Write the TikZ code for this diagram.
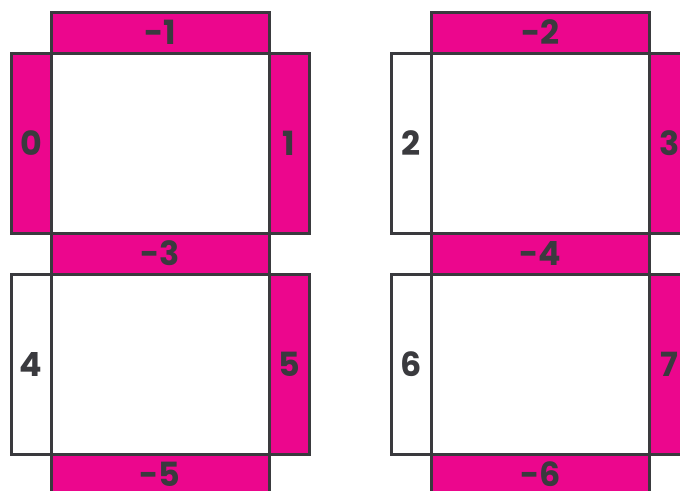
\documentclass[tikz,border=0pt]{standalone}
\usepackage{fontspec}
\setmainfont{Poppins}
\usetikzlibrary{positioning}
\definecolor{pink}{RGB}{236,6,141}
\definecolor{ink}{RGB}{58,58,62}

\tikzset{
  part/.style={draw=ink, line width=2.25pt, inner sep=0pt, outer sep=0pt,
    text=ink, font=\fontsize{25}{25}\selectfont\bfseries},
  cell/.style={part, minimum width=163.5pt, minimum height=135pt},
  sidebar/.style={part, minimum width=30pt, minimum height=135pt},
  topbar/.style={part, fill=pink, minimum width=163.5pt, minimum height=30.75pt},
}

\begin{document}
\begin{tikzpicture}[x=0.75pt, y=-0.75pt]
    \useasboundingbox (0,0) rectangle (680,490);
    \clip (0,0) rectangle (680,490);

    % Squares
    \node[cell] (sqA) at (160,143) {};
    \node[cell] (sqB) at (540.5,143) {};
    \node[cell] (sqC) at (160,364) {};
    \node[cell] (sqD) at (540.5,364) {};

    % Side bars
    \node[sidebar, fill=pink, left=0pt of sqA] (s0) {0};
    \node[sidebar, fill=pink, right=0pt of sqA] (s1) {1};
    \node[sidebar, fill=white, left=0pt of sqB] (s2) {2};
    \node[sidebar, fill=pink, right=0pt of sqB] (s3) {3};
    \node[sidebar, fill=white, left=0pt of sqC] (s4) {4};
    \node[sidebar, fill=pink, right=0pt of sqC] (s5) {5};
    \node[sidebar, fill=white, left=0pt of sqD] (s6) {6};
    \node[sidebar, fill=pink, right=0pt of sqD] (s7) {7};

    % Top and bottom bars
    \node[topbar, above=0pt of sqA] (m1) {-1};
    \node[topbar, above=0pt of sqB] (m2) {-2};
    \node[topbar, below=0pt of sqA] (m3) {-3};
    \node[topbar, below=0pt of sqB] (m4) {-4};
    \node[topbar, below=0pt of sqC] (m5) {-5};
    \node[topbar, below=0pt of sqD] (m6) {-6};
\end{tikzpicture}
\end{document}
